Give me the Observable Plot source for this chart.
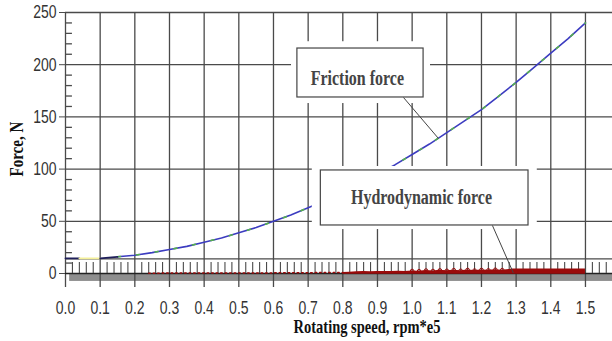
<!DOCTYPE html>
<html><head><meta charset="utf-8">
<script src="https://cdn.jsdelivr.net/npm/d3@7"></script>
<script src="https://cdn.jsdelivr.net/npm/@observablehq/plot@0.6"></script>
<style>body{margin:0;background:#fff} svg{display:block}</style>
</head><body><div id="chart"></div>
<script>
// ---- data ----
const speedTicks = [0.0, 0.1, 0.2, 0.3, 0.4, 0.5, 0.6, 0.7, 0.8, 0.9, 1.0, 1.1, 1.2, 1.3, 1.4, 1.5];
const forceTicks = [0, 50, 100, 150, 200, 250];
const refLevel = [14];

const frictionSpeed = [0, 0.04, 0.1, 0.15, 0.2, 0.25, 0.3, 0.35, 0.4, 0.45, 0.5, 0.55, 0.6, 0.65, 0.7, 0.75, 0.8, 0.85, 0.9, 0.95, 1.0, 1.05, 1.1, 1.15, 1.2, 1.25, 1.3, 1.35, 1.4, 1.45, 1.5];
const frictionForce = [14.5, 14.5, 14.5, 16, 17.5, 20, 23, 26, 30, 34, 39, 44, 50, 56, 63, 70, 78, 86, 95, 104, 114, 124, 135, 146, 157, 170, 183, 197, 211, 225, 240];

const hydroSpeed = [0.24, 0.3, 0.4, 0.5, 0.6, 0.7, 0.8, 0.82, 0.84, 0.86, 0.88, 0.9, 0.92, 0.94, 0.96, 0.98, 1.0, 1.02, 1.04, 1.06, 1.08, 1.1, 1.12, 1.14, 1.16, 1.18, 1.2, 1.22, 1.24, 1.26, 1.28, 1.29, 1.5];
const hydroForce = [0.3, 0.4, 0.5, 0.5, 0.6, 0.8, 1.0, 1.2, 1.6, 1.8, 1.6, 1.9, 2.0, 1.8, 2.2, 2.0, 2.4, 2.2, 2.8, 2.4, 3.0, 2.6, 3.2, 2.6, 3.4, 2.8, 3.4, 3.0, 3.6, 3.2, 3.8, 4.2, 4.2];

const seriesLabels = ["Friction force", "Hydrodynamic force"];
const xTitle = "Rotating speed, rpm*e5";
const yTitle = "Force, N";

// ---- tables built from the arrays ----
const friction = frictionSpeed.map((s, i) => ({speed: s, force: frictionForce[i]}));
const hydro = hydroSpeed.map((s, i) => ({speed: s, force: hydroForce[i]}));

// annotation boxes (data units), callout line anchors
const boxes = [
  {label: seriesLabels[0], x1: 0.669, x2: 1.033, y1: 168.6, y2: 215.5, wx1: 0.652, wx2: 1.053, wy1: 162.8, wy2: 222,
   tx: 0.842, ty: 187.5, lx1: 0.975, ly1: 168.6, lx2: 1.076, ly2: 129.3},
  {label: seriesLabels[1], x1: 0.7366, x2: 1.3357, y1: 46, y2: 98.7, wx1: 0.712, wx2: 1.361, wy1: 42.1, wy2: 102.5,
   tx: 1.027, ty: 72.8, lx1: 1.2316, ly1: 46, lx2: 1.292, ly2: 0.5}
];

const xMax = 1.578;
const xMinor = d3.range(1, 79).filter(i => i % 5 !== 0).map(i => i * 0.02);
const yMinor = d3.range(1, 25).filter(i => i % 5 !== 0).map(i => i * 10);
const gridColor = "#4a4a4a";
const red = "#9a0a0a";
const serif = "Liberation Serif, Times New Roman, serif";
const sans = "Liberation Sans, Arial, sans-serif";

const chart = Plot.plot({
  width: 612, height: 341,
  marginLeft: 65, marginRight: 0, marginTop: 12, marginBottom: 68,
  x: {domain: [0, xMax]},
  y: {domain: [0, 250]},
  style: {background: "white", overflow: "visible"},
  marks: [
    Plot.rect([0], {x1: 0.012, x2: xMax, y1: -0.9, y2: -7.6, fill: "#8e8e8e"}),
    Plot.ruleY(forceTicks.slice(1), {x1: 0, x2: xMax, stroke: gridColor, strokeWidth: 1.3}),
    Plot.ruleY(refLevel, {x1: 0, x2: xMax, stroke: gridColor, strokeWidth: 1.3}),
    Plot.ruleX(speedTicks, {y1: -13.4, y2: 250, stroke: gridColor, strokeWidth: 1.3}),
    Plot.ruleY([0], {x1: 0, x2: xMax, stroke: "#222", strokeWidth: 1.3}),
    Plot.ruleX(xMinor, {y1: 0, y2: 10.5, stroke: gridColor, strokeWidth: 1.1}),
    Plot.ruleY(yMinor, {x1: 0, x2: 0.02, stroke: gridColor, strokeWidth: 1.3}),
    Plot.axisX(speedTicks, {tickSize: 0, tickPadding: 29, tickFormat: d3.format(".1f"), fontSize: 14,
      fontFamily: sans, fill: "#333", label: null}),
    Plot.axisY(forceTicks, {tickSize: 6, tickPadding: 3, fontSize: 14, stroke: gridColor,
      fontFamily: sans, fill: "#333", label: null}),
    Plot.line(hydro.filter(d => d.speed <= 0.8), {x: "speed", y: "force", stroke: red, strokeWidth: 1.5, strokeDasharray: "1.5,3"}),
    Plot.areaY(hydro.filter(d => d.speed >= 0.8), {x: "speed", y1: -0.8, y2: "force", fill: red}),
    Plot.dot(hydro.filter(d => d.speed >= 1.0 && d.speed <= 1.27), {x: "speed", y: "force", r: 1.8, stroke: red, fill: "none", strokeWidth: 1}),
    Plot.line(friction.filter(d => d.speed >= 0.15), {x: "speed", y: "force", stroke: "#3c3cc0", strokeWidth: 1.6}),
    Plot.line(friction.filter(d => d.speed >= 0.15), {x: "speed", y: "force", stroke: "#55b24a", strokeWidth: 1.6, strokeDasharray: "3,16"}),
    Plot.line(friction.filter(d => d.speed <= 0.04), {x: "speed", y: "force", stroke: "#1f1f5a", strokeWidth: 1.8}),
    Plot.line(friction.filter(d => d.speed >= 0.04 && d.speed <= 0.1), {x: "speed", y: "force", stroke: "#f4f09a", strokeWidth: 1.8}),
    Plot.line(friction.filter(d => d.speed >= 0.1 && d.speed <= 0.15), {x: "speed", y: "force", stroke: "#1f1f5a", strokeWidth: 1.8}),
    Plot.rect(boxes, {x1: "wx1", x2: "wx2", y1: "wy1", y2: "wy2", fill: "white"}),
    Plot.rect(boxes, {x1: "x1", x2: "x2", y1: "y1", y2: "y2", fill: "white", stroke: "#444", strokeWidth: 1.2}),
    Plot.link(boxes, {x1: "lx1", y1: "ly1", x2: "lx2", y2: "ly2", stroke: "#444", strokeWidth: 1}),
    Plot.text(boxes, {x: "tx", y: "ty", text: "label", fontSize: 16, fontWeight: "bold",
      fontFamily: serif, fill: "#444"}),
    Plot.text([xTitle], {frameAnchor: "bottom", dx: 28, dy: 58, fontSize: 14.5, fontWeight: "bold",
      fontFamily: serif, fill: "#111"}),
    Plot.text([yTitle], {frameAnchor: "left", y: [93], dx: -49, rotate: -90, fontSize: 15, fontWeight: "bold",
      fontFamily: serif, fill: "#111"})
  ]
});
document.getElementById("chart").appendChild(chart);
// the reference's lettering is stretched vertically; scale each text about its own centre
d3.select(chart).selectAll("text").each(function() {
  const b = this.getBBox();
  const cx = b.x + b.width / 2, cy = b.y + b.height / 2;
  const tr = this.getAttribute("transform") || "";
  this.setAttribute("transform", `${tr} translate(${cx},${cy}) scale(1,1.3) translate(${-cx},${-cy})`);
});
</script>
</body></html>
